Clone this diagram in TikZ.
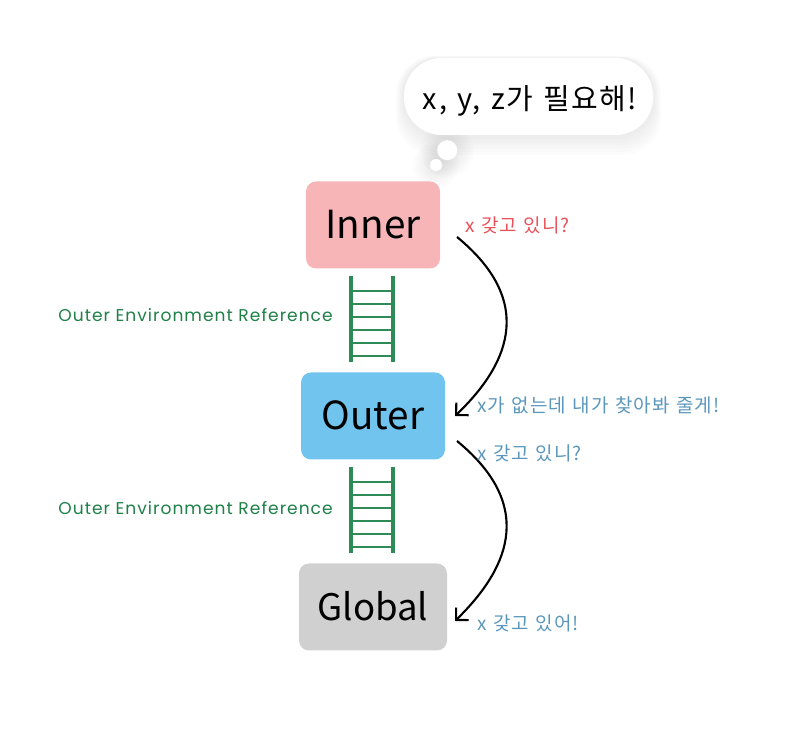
\documentclass[tikz,border=0pt]{standalone}
\usepackage{fontspec}
\setmainfont[LetterSpace=5,WordSpace=1.3]{Noto Sans CJK KR}
\newfontfamily\boxfont{Noto Sans CJK KR}
\newfontfamily\latinfont[LetterSpace=6]{Poppins}
\usetikzlibrary{arrows.meta}
\definecolor{innerred}{HTML}{F7B5B7}
\definecolor{outerblue}{HTML}{70C4EE}
\definecolor{globalgray}{HTML}{D0D0D0}
\definecolor{laddergreen}{HTML}{2E8B57}
\definecolor{askred}{HTML}{E8525A}
\definecolor{askblue}{HTML}{5B97BC}
\definecolor{refgreen}{HTML}{1F8048}
\tikzset{
    envbox/.style={rounded corners=0.25cm, inner sep=0, text height=0.78cm, text depth=0.08cm, font=\boxfont\fontsize{27.5}{27}\selectfont, text=black},
    ask/.style={anchor=west, inner sep=0, font=\fontsize{13.5}{13}\selectfont},
    refnote/.style={anchor=east, inner sep=0, text=refgreen, font=\latinfont\fontsize{12.15}{13}\selectfont},
    rail/.style={draw=laddergreen, line width=2.2pt},
    rung/.style={draw=laddergreen, line width=1.9pt},
    lookup/.style={-{Straight Barb[length=2.2mm,width=4.4mm]}, line width=1.5pt}
}
\begin{document}
\begin{tikzpicture}
    \useasboundingbox (0,0) rectangle (20.15,18.625);
    % Bubble
        \foreach \g in {0.5,0.42,...,0.05}{
            \fill[black, opacity=0.011, rounded corners=0.95cm] (10.1-\g/2.5,15.25-\g) rectangle (16.33+\g/2.5,17.175+\g/10);
            \fill[black, opacity=0.01] (11.18,14.87) circle (0.25+\g/1.2);
            \fill[black, opacity=0.01] (10.9,14.5) circle (0.15+\g/1.2);
        }
        \node[fill=white, rounded corners=0.95cm, minimum width=6.23cm, minimum height=1.925cm, inner sep=0] (thought) at (13.215,16.2125) {};
        \node[inner sep=0, font=\fontsize{20.6}{21}\selectfont] (thoughttext) at (13.25,16.1) {x, y, z가 필요해!};
        \node[circle, fill=white, minimum size=0.5cm, inner sep=0] (puffa) at (11.18,14.87) {};
        \node[circle, fill=white, minimum size=0.3cm, inner sep=0] (puffb) at (10.9,14.5) {};
    % Environments
        \node[envbox, fill=innerred, minimum width=3.35cm, minimum height=2.175cm] (inner) at (9.325,13.0) {Inner};
        \node[envbox, fill=outerblue, minimum width=3.6cm, minimum height=2.175cm] (outer) at (9.325,8.225) {Outer};
        \node[envbox, fill=globalgray, minimum width=3.7cm, minimum height=2.175cm, font=\boxfont\fontsize{26}{26}\selectfont] (global) at (9.325,3.45) {Global};
    % Ladders
        \foreach \y in {0,4.775}{
            \begin{scope}[yshift=-\y cm]
                \draw[rail] (8.775,11.725) -- (8.775,9.575);
                \draw[rail] (9.825,11.725) -- (9.825,9.575);
                \foreach \n in {0,...,5}{
                    \draw[rung] (8.775,11.35-\n*0.325) -- (9.825,11.35-\n*0.325);
                }
            \end{scope}
        }
    % Lookups
        \coordinate (innerout) at (11.425,12.7);
        \coordinate (outerin) at (11.375,8.225);
        \coordinate (outerout) at (11.425,7.6);
        \coordinate (globalin) at (11.375,3.1);
        \draw[lookup] (innerout) .. controls (13.5,11.0) and (12.6,9.4) .. (outerin);
        \draw[lookup] (outerout) .. controls (13.5,5.9) and (12.6,4.3) .. (globalin);
    % Labels
        \node[refnote] (refa) at (8.325,10.74) {Outer Environment Reference};
        \node[refnote] (refb) at (8.325,5.92) {Outer Environment Reference};
        \node[ask, text=askred] (askinner) at (11.62,12.98) {x 갖고 있니?};
        \node[ask, text=askblue] (nox) at (11.92,8.5) {x가 없는데 내가 찾아봐 줄게!};
        \node[ask, text=askblue] (askouter) at (11.92,7.28) {x 갖고 있니?};
        \node[ask, text=askblue] (hasx) at (11.92,3.05) {x 갖고 있어!};
\end{tikzpicture}
\end{document}
